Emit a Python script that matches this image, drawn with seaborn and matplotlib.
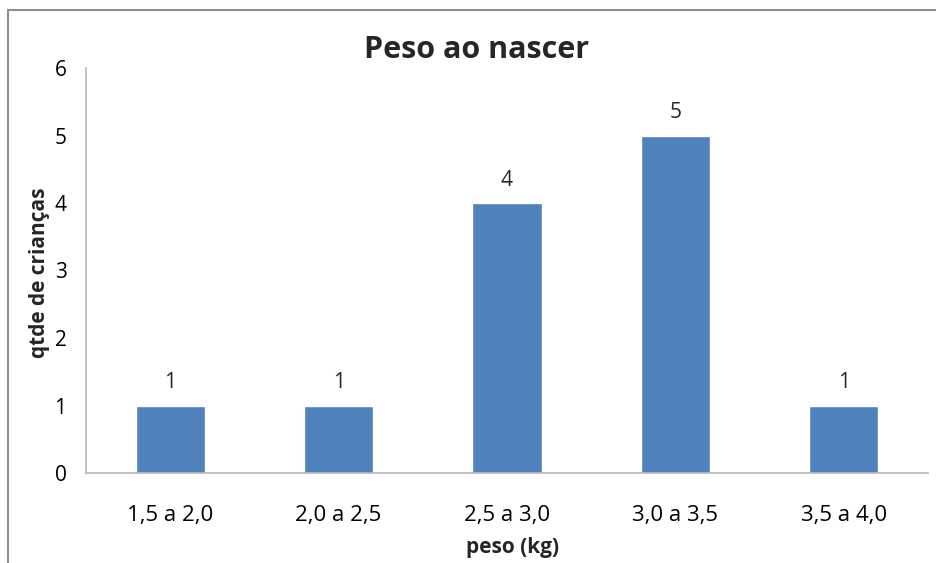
import matplotlib
matplotlib.use("Agg")
import matplotlib.pyplot as plt
import seaborn as sns
import pandas as pd
from matplotlib.patches import Rectangle

categories = ["1,5 a 2,0", "2,0 a 2,5", "2,5 a 3,0", "3,0 a 3,5", "3,5 a 4,0"]
counts = [1, 1, 4, 5, 1]
title = "Peso ao nascer"
x_label = "peso (kg)"
y_label = "qtde de crianças"

sns.set_theme(style="white")
plt.rcParams["font.family"] = ["Open Sans", "DejaVu Sans"]

df = pd.DataFrame({"faixa": categories, "qtde": counts})

W, H = 937, 563
fig = plt.figure(figsize=(W / 100, H / 100), dpi=100)
ax = fig.add_axes([86 / W, 90 / H, (928 - 86) / W, (473 - 68) / H])

sns.barplot(data=df, x="faixa", y="qtde", color="#4F81BD", saturation=1,
            width=0.41, ax=ax)

ax.set_ylim(0, 6)
ax.set_yticks(range(0, 7))
ax.tick_params(axis="both", length=0, labelsize=15, colors="black")
ax.tick_params(axis="x", labelsize=16, pad=23)
ax.tick_params(axis="y", pad=14)

for side in ["top", "right"]:
    ax.spines[side].set_visible(False)
for side in ["left", "bottom"]:
    ax.spines[side].set_color("#B7B7B7")
    ax.spines[side].set_linewidth(1.2)

for cont in ax.containers:
    ax.bar_label(cont, labels=[str(v) for v in counts], padding=9, fontsize=15)

ax.set_xlabel(x_label, fontsize=15, fontweight="bold", va="center")
ax.xaxis.set_label_coords((513 - 86) / 842, (473 - 548) / 405)
ax.set_ylabel(y_label, fontsize=15, fontweight="bold", va="center")
ax.yaxis.set_label_coords((40 - 86) / 842, (473 - 273) / 405)
fig.text(477 / W, 1 - 50 / H, title, ha="center", va="center",
         fontsize=22, fontweight="bold")

# chart frame
fig.patches.append(Rectangle((8 / W, -0.1), 1.2, 1 - 10 / H + 0.1,
                             transform=fig.transFigure, fill=False,
                             edgecolor="#8C8C8C", linewidth=1.5))

fig.savefig("out.png", dpi=100)
